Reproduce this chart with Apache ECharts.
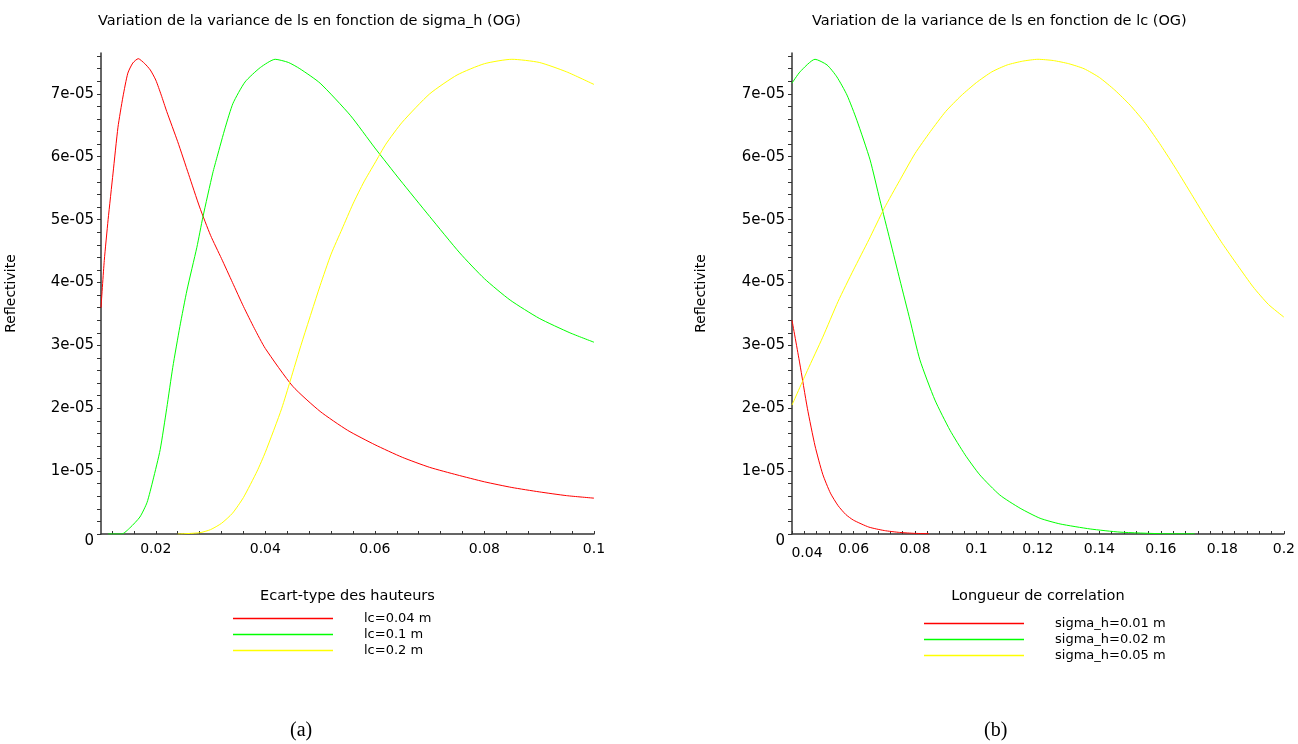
<!DOCTYPE html>
<html>
<head>
<meta charset="utf-8">
<script src="https://cdn.jsdelivr.net/npm/echarts@6/dist/echarts.min.js"></script>
<style>
html,body{margin:0;padding:0;background:#fff;}
#c{width:1298px;height:744px;}
</style>
</head>
<body>
<div id="c"></div>
<script>
// ---------- DATA (y values in units of 1e-05) ----------
// Left panel: variance vs sigma_h for several lc
const sigmaRed = [0.01,0.0106,0.0113,0.0122,0.0131,0.014,0.0149,0.0158,0.0168,0.018,0.019,0.02,0.021,0.022,0.024,0.026,0.028,0.03,0.032,0.034,0.036,0.038,0.04,0.045,0.05,0.055,0.06,0.065,0.07,0.075,0.08,0.085,0.09,0.095,0.1];
const leftRed  = [3.6,4.35,5.0,5.74,6.47,6.95,7.33,7.49,7.56,7.48,7.38,7.22,6.98,6.72,6.24,5.72,5.2,4.75,4.38,4.0,3.62,3.27,2.95,2.35,1.95,1.65,1.42,1.22,1.06,0.94,0.83,0.74,0.67,0.61,0.57];

const sigmaGreen = [0.0113,0.0138,0.0153,0.0171,0.0184,0.0195,0.0208,0.022,0.0231,0.0244,0.0257,0.0275,0.0286,0.0304,0.0312,0.0327,0.0341,0.0363,0.0391,0.0418,0.0442,0.0463,0.05,0.0555,0.06,0.0646,0.07,0.0755,0.08,0.0847,0.09,0.0956,0.1];
const leftGreen  = [0,0,0.1,0.27,0.5,0.86,1.34,2.0,2.65,3.3,3.88,4.56,5.04,5.74,6.0,6.47,6.85,7.19,7.42,7.55,7.5,7.4,7.17,6.66,6.14,5.63,5.05,4.47,4.06,3.72,3.43,3.2,3.05];

const sigmaYellow = [0.024,0.028,0.03,0.032,0.034,0.036,0.0385,0.04,0.043,0.0465,0.05,0.052,0.054,0.056,0.058,0.06,0.062,0.065,0.07,0.075,0.08,0.085,0.09,0.095,0.1];
const leftYellow  = [0,0.02,0.07,0.17,0.33,0.58,1.0,1.3,2.0,3.0,3.95,4.45,4.85,5.25,5.6,5.9,6.2,6.55,7.0,7.3,7.48,7.55,7.5,7.35,7.15];

// Right panel: variance vs lc for several sigma_h
const lcRed = [0.04,0.0425,0.045,0.0475,0.05,0.0525,0.055,0.0575,0.06,0.065,0.07,0.075,0.08,0.0845];
const rightRed = [3.4,2.72,2.0,1.4,0.95,0.65,0.45,0.31,0.22,0.11,0.055,0.025,0.01,0.005];

const lcGreen = [0.04,0.0426,0.0475,0.0514,0.0546,0.0579,0.0611,0.0654,0.0686,0.0719,0.0751,0.0784,0.0816,0.0865,0.0914,0.0963,0.1011,0.1076,0.1142,0.1207,0.1272,0.137,0.1467,0.16,0.171];
const rightGreen = [7.17,7.35,7.55,7.46,7.27,6.98,6.58,5.95,5.31,4.67,4.04,3.4,2.77,2.13,1.65,1.26,0.94,0.62,0.41,0.25,0.16,0.08,0.03,0.005,0.003];

const lcYellow = [0.04,0.045,0.05,0.055,0.06,0.065,0.07,0.075,0.08,0.085,0.09,0.095,0.1,0.105,0.11,0.115,0.12,0.125,0.13,0.135,0.14,0.145,0.15,0.155,0.16,0.165,0.17,0.175,0.18,0.185,0.19,0.195,0.2];
const rightYellow = [2.05,2.6,3.13,3.7,4.2,4.68,5.18,5.62,6.05,6.4,6.72,6.97,7.18,7.35,7.46,7.52,7.55,7.53,7.48,7.4,7.26,7.06,6.82,6.53,6.18,5.8,5.4,5.0,4.62,4.27,3.93,3.65,3.45];

// ---------- TEXT / TICKS ----------
const leftTitle = 'Variation de la variance de ls en fonction de sigma_h (OG)';
const rightTitle = 'Variation de la variance de ls en fonction de lc (OG)';
const yName = 'Reflectivite';
const leftXName = 'Ecart-type des hauteurs';
const rightXName = 'Longueur de correlation';
const leftNames = ['lc=0.04 m','lc=0.1 m','lc=0.2 m'];
const rightNames = ['sigma_h=0.01 m','sigma_h=0.02 m','sigma_h=0.05 m'];
const leftXLabels = [0.02,0.04,0.06,0.08,0.1];
const rightXLabels = [0.04,0.06,0.08,0.1,0.12,0.14,0.16,0.18,0.2];
const yLabels = [0,1,2,3,4,5,6,7];
const colors = ['#ff0000','#00ff00','#ffff00'];

function range(a,b,step){const r=[];const n=Math.round((b-a)/step);for(let i=0;i<=n;i++)r.push(+(a+i*step).toFixed(6));return r;}
const leftXTicks = range(0.012,0.1,0.004);
const rightXTicks = range(0.04,0.2,0.004);
const yTicks = range(0,7.6,0.2);

function zip(xs,ys){return xs.map((x,i)=>[x,ys[i]]);}

const SANS = 'DejaVu Sans';
const AX = '#333';
const LINE_ICON = 'path://M0,0 L100,0 L100,1.6 L0,1.6 Z';

function yAxis(gi){
  return {
    type:'value', gridIndex:gi, min:0, max:7.65,
    name:yName, nameLocation:'middle', nameRotate:90, nameGap:gi?84:83,
    nameTextStyle:{fontFamily:SANS,fontSize:14,color:'#000'},
    axisLine:{show:true,lineStyle:{color:AX,width:1.5}},
    axisTick:{show:true,inside:false,length:4,customValues:yTicks,lineStyle:{color:AX,width:1}},
    axisLabel:{customValues:yLabels,margin:7,fontFamily:SANS,fontSize:15,color:'#000',
      formatter:v=>v===0?'{z|0}':Math.round(v)+'e-05',
      rich:{z:{fontFamily:SANS,fontSize:15,color:'#000',padding:[14,0,0,0]}}},
    splitLine:{show:false}
  };
}

function legend(names,left,top){
  return {data:names.map(n=>({name:n,icon:LINE_ICON})),orient:'vertical',left:left,top:top,
    itemWidth:100,itemHeight:14,itemGap:3,padding:0,symbolKeepAspect:true,
    textStyle:{fontFamily:SANS,fontSize:13,color:'#000',padding:[3,0,0,26]}};
}

function line(name,xi,xs,ys,color){
  return {name:name,type:'line',xAxisIndex:xi,yAxisIndex:xi,data:zip(xs,ys),symbol:'none',
    smooth:0.2,lineStyle:{color:color,width:1},itemStyle:{color:color}};
}

const titleStyle = {fontFamily:SANS,fontSize:14.5,fontWeight:'normal',color:'#000'};

const option = {
  backgroundColor:'#fff',
  animation:false,
  title:[
    {text:leftTitle,left:98,top:14,padding:0,textStyle:titleStyle},
    {text:rightTitle,left:812,top:14,padding:0,textStyle:titleStyle}
  ],
  grid:[
    {left:101,top:53,width:493,height:481,containLabel:false},
    {left:792,top:53,width:492,height:481,containLabel:false}
  ],
  legend:[legend(leftNames,233,612),legend(rightNames,924,617)],
  xAxis:[
    {type:'value',gridIndex:0,min:0.01,max:0.1,
      name:leftXName,nameLocation:'middle',nameGap:55,
      nameTextStyle:{fontFamily:SANS,fontSize:14.5,color:'#000'},
      axisLine:{show:true,onZero:false,lineStyle:{color:AX,width:1.5}},
      axisTick:{show:true,inside:true,length:3,customValues:leftXTicks,lineStyle:{color:AX,width:1}},
      axisLabel:{customValues:leftXLabels,margin:8,fontFamily:SANS,fontSize:14,color:'#000',formatter:v=>String(+v.toFixed(3))},
      splitLine:{show:false}},
    {type:'value',gridIndex:1,min:0.04,max:0.2,
      name:rightXName,nameLocation:'middle',nameGap:55,
      nameTextStyle:{fontFamily:SANS,fontSize:14.5,color:'#000'},
      axisLine:{show:true,onZero:false,lineStyle:{color:AX,width:1.5}},
      axisTick:{show:true,inside:true,length:3,customValues:rightXTicks,lineStyle:{color:AX,width:1}},
      axisLabel:{customValues:rightXLabels,margin:8,fontFamily:SANS,fontSize:14,color:'#000',
        formatter:v=>Math.abs(v-0.04)<1e-9?'{o|0.04}':String(+v.toFixed(3)),
        rich:{o:{fontFamily:SANS,fontSize:14,color:'#000',padding:[4,0,0,30]}}},
      splitLine:{show:false}}
  ],
  yAxis:[yAxis(0),yAxis(1)],
  series:[
    line(leftNames[0],0,sigmaRed,leftRed,colors[0]),
    line(leftNames[1],0,sigmaGreen,leftGreen,colors[1]),
    line(leftNames[2],0,sigmaYellow,leftYellow,colors[2]),
    line(rightNames[0],1,lcRed,rightRed,colors[0]),
    line(rightNames[1],1,lcGreen,rightGreen,colors[1]),
    line(rightNames[2],1,lcYellow,rightYellow,colors[2])
  ],
  graphic:[
    {type:'text',left:290,top:721,style:{text:'(a)',font:'20px "Liberation Serif"',fill:'#000'}},
    {type:'text',left:984,top:721,style:{text:'(b)',font:'20px "Liberation Serif"',fill:'#000'}}
  ]
};
const chart = echarts.init(document.getElementById('c'),null,{renderer:'canvas'});
chart.setOption(option);
</script>
</body>
</html>
